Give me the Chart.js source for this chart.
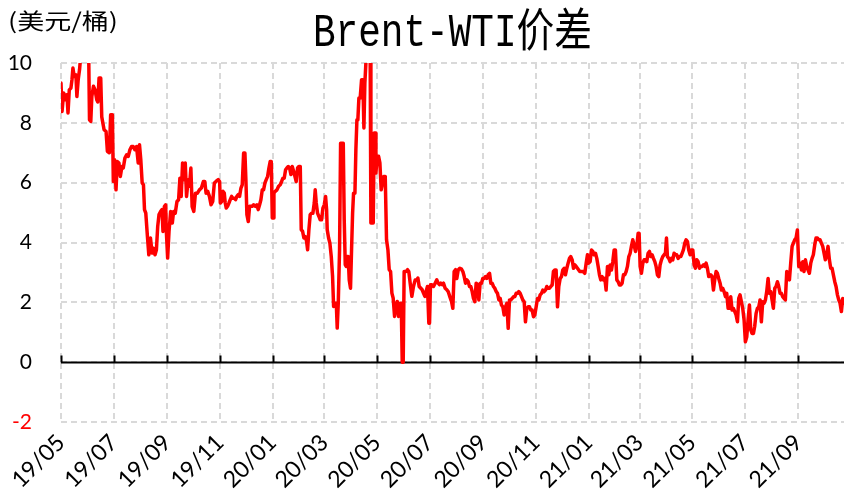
<!DOCTYPE html>
<html><head><meta charset="utf-8">
<script src="https://cdn.jsdelivr.net/npm/chart.js@4/dist/chart.umd.min.js"></script>
<style>html,body{margin:0;padding:0;background:#fff;overflow:hidden}</style>
</head><body>
<canvas id="c" width="844" height="495"></canvas>
<script>
const TITLE = 'Brent-WTI价差';
const UNIT = '(美元/桶)';
const START = Date.UTC(2019, 4, 1);           // day 0 = 2019-05-01
const tickLabels = ['19/05','19/07','19/09','19/11','20/01','20/03','20/05','20/07','20/09','20/11','21/01','21/03','21/05','21/07','21/09'];
const yTicks = [-2, 0, 2, 4, 6, 8, 10];

// days since 2019-05-01
const dayOffsets = [
 0,1.2,3.1,5.0,6.9,8.1,9.6,11.5,12.7,13.8,15.3,17.3,18.4,19.9,21.5,23.0,26.0,29.2,32.2,33.0,34.5,35.7,37.6,39.5,41.4,42.6,44.1,46.0,47.2,49.9,52.2,53.7,56.0,57.5,59.5,60.6,62.1,63.7,65.2,67.1,68.7,70.6,72.1,74.0,76.0,77.9,79.8,81.7,83.6,85.5,87.5,89.4,90.9,92.4,94.0,95.5,96.7,98.2,100.1,101.7,103.6,105.5,107.0,108.9,110.5,112.0,113.5,115.5,117.0,118.1,119.7,121.2,122.0,123.5,125.1,127.0,128.9,130.4,132.3,134.3,136.2,137.7,139.2,140.8,142.3,143.9,145.4,147.3,148.8,150.4,151.9,153.8,155.7,158.0,160.3,162.6,164.9,166.5,168.0,169.9,171.9,173.8,175.7,177.6,179.5,
 182.1,183.7,184.5,186.0,187.5,189.1,190.2,191.4,192.9,194.5,196.0,197.6,199.1,200.7,202.2,203.7,205.3,206.8,208.4,209.9,211.5,213.0,214.2,215.3,216.9,218.4,220.0,221.5,223.1,225.0,226.9,228.4,230.0,231.5,233.1,234.6,236.2,237.7,239.3,240.8,242.3,243.5,244.7,245.8,246.6,248.1,250.1,252.0,253.9,255.5,257.0,258.5,260.1,261.6,263.2,264.7,266.3,267.8,269.4,270.9,272.4,274.0,275.5,277.1,278.2,279.8,281.3,282.9,284.4,285.6,287.1,288.6,290.2,291.7,293.3,294.4,295.6,297.1,298.7,300.2,301.8,303.3,304.9,306.4,307.6,308.3,309.9,311.4,313.0,314.5,315.7,317.2,318.8,319.9,321.1,322.6,323.8,325.3,326.9,328.0,329.2,330.3,331.5,332.6,333.8,335.3,336.5,337.7,338.8,340.4,341.5,342.7,343.8,345.0,346.5,348.1,349.6,350.8,351.9,353.1,354.6,356.6,358.1,358.9,360.4,361.6,362.7,363.9,364.7,366.2,367.8,369.3,370.8,372.4,373.9,375.5,377.0,378.6,380.1,381.7,383.2,384.7,386.3,387.8,389.4,390.9,392.5,394.0,395.2,396.3,
 397.4,399.7,401.3,402.8,404.4,406.3,408.2,410.2,412.1,413.3,414.8,416.7,418.3,419.8,421.4,422.9,424.4,426.0,426.8,427.9,429.5,431.4,433.3,435.2,436.8,438.3,439.9,441.4,443.0,444.9,446.8,
 448.4,450.3,452.3,453.8,455.3,456.9,458.4,460.0,461.9,463.8,465.4,466.9,468.5,470.0,471.6,473.1,474.6,476.2,477.7,479.3,480.8,482.4,483.9,485.4,487.0,488.5,490.1,491.6,493.2,494.7,496.3,497.8,499.3,500.9,502.4,504.0,505.5,507.1,508.6,510.1,511.7,513.2,514.8,516.3,517.9,519.4,521.0,522.5,524.0,525.6,527.1,528.7,530.2,531.8,533.3,534.8,536.4,537.9,539.5,541.0,542.6,544.1,545.6,547.2,548.7,550.3,551.8,553.4,554.9,556.5,558.0,559.5,561.1,562.6,564.2,565.7,567.3,568.8,570.3,571.9,573.4,575.0,576.5,578.1,579.6,581.1,582.7,584.2,585.8,587.3,588.9,590.4,592.0,593.5,595.1,596.6,598.1,
 600.8,602.8,604.7,606.6,608.2,609.7,611.2,612.8,614.3,615.9,617.4,619.0,620.5,622.1,623.6,625.1,626.7,628.2,629.8,631.3,632.9,634.4,635.9,637.5,639.0,640.6,642.1,643.7,645.2,646.8,648.3,649.8,651.4,652.9,654.5,656.0,657.6,659.1,660.6,662.2,663.7,665.3,666.8,668.4,669.5,670.7,672.2,673.8,675.3,676.9,678.4,679.9,681.5,683.0,684.6,686.1,687.7,689.2,690.7,692.3,693.8,695.4,696.9,698.5,700.0,701.2,702.3,703.9,705.4,707.0,708.5,710.0,711.6,713.1,714.7,716.2,717.8,719.3,720.8,722.4,723.9,725.5,727.0,728.6,730.1,731.7,733.2,734.7,736.3,737.8,739.4,740.9,742.5,744.0,745.6,747.1,748.6,750.2,
 752.5,754.0,755.6,757.1,758.7,760.2,761.7,763.3,764.8,766.4,767.9,769.5,771.0,772.6,774.1,775.6,777.2,778.7,780.3,781.8,783.4,784.9,786.4,788.0,789.5,791.1,792.6,794.2,795.7,797.3,798.8,800.3,801.9,803.4,805.0,806.5,808.1,809.6,811.1,812.7,814.2,815.8,817.3,818.9,820.4,822.0,823.5,825.0,826.6,828.1,829.7,831.2,832.8,834.3,835.8,837.4,838.9,840.5,842.0,843.6,845.1,846.7,848.2,849.7,851.3,852.8,854.4,855.9,857.5,859.0,860.5,862.1,863.6,865.2,866.7,868.3,869.8,871.3,872.9,874.4,876.0,877.5,879.1,880.6,882.2,883.7,885.2,886.8,888.3,889.9,891.4,893.0,894.5,896.1,897.6,899.2,900.7,902.2,903.8,905.3,906.8
];

// Brent-WTI spread, USD/bbl
const spread = [
 9.33,8.38,9.0,8.77,8.94,8.33,9.1,9.16,9.44,9.83,9.55,9.6,8.88,9.44,9.78,10.3,10.7,10.4,10.0,8.1,8.05,8.88,9.22,9.1,8.77,8.7,9.5,9.5,8.2,7.77,7.71,7.05,7.0,8.27,8.27,6.04,6.77,5.76,6.71,6.66,6.21,6.54,6.49,6.82,6.93,6.88,7.1,7.21,7.21,7.1,7.21,6.66,7.27,6.77,5.99,5.93,5.1,4.98,4.2,3.59,4.15,3.65,3.81,3.59,3.76,4.54,4.93,5.04,5.1,4.37,5.2,5.26,4.37,3.48,4.37,5.04,4.65,5.04,4.98,5.37,5.43,6.15,5.54,6.66,6.1,6.66,5.54,6.1,5.88,6.49,5.2,5.04,5.65,5.65,5.76,5.82,6.04,6.04,5.65,5.71,5.54,5.26,5.37,5.99,6.04,
 6.1,6.04,5.32,5.37,5.71,5.65,5.32,5.15,5.21,5.32,5.43,5.54,5.48,5.48,5.43,5.54,5.6,5.54,5.82,5.93,6.99,6.99,6.04,4.93,4.70,5.21,5.21,5.21,5.26,5.21,5.26,5.10,5.26,5.43,5.76,5.76,5.99,6.1,6.21,6.49,6.71,6.71,4.82,4.82,5.65,5.71,5.76,5.88,5.93,6.04,6.15,6.15,6.43,6.49,6.54,6.49,6.27,6.54,6.38,6.21,6.04,6.49,6.54,6.54,4.43,4.37,4.15,4.20,4.04,3.76,4.43,4.93,4.98,4.98,5.32,5.76,5.32,4.98,4.87,4.76,4.76,5.15,5.26,5.54,5.10,4.43,4.15,3.98,3.53,2.87,1.86,1.97,1.97,1.14,1.97,3.76,7.32,7.32,7.32,4.76,3.26,3.20,3.53,3.53,2.75,2.47,3.76,4.98,5.65,5.65,7.10,8.10,8.10,8.83,8.83,9.44,9.44,7.83,9.33,10.0,10.6,10.6,10.0,4.65,4.65,4.65,7.66,7.66,6.32,6.88,6.88,6.66,5.76,5.99,6.21,6.21,4.09,3.76,3.09,3.03,2.31,2.14,1.53,1.86,2.03,1.53,1.97,1.97,0.0,0.0,
 3.03,3.03,3.09,3.03,2.64,2.20,2.53,2.75,2.75,2.81,2.53,2.47,2.42,2.31,2.20,2.37,2.53,1.30,1.30,2.59,2.59,2.53,2.64,2.75,2.64,2.59,2.64,2.59,2.64,2.47,2.42,
 2.36,2.19,2.02,1.80,3.03,3.09,2.80,3.08,3.14,3.11,3.03,2.87,2.64,2.75,2.69,2.53,2.53,2.36,2.13,2.02,2.64,2.58,2.08,2.64,2.64,2.80,2.80,2.86,2.80,2.92,2.97,2.64,2.64,2.53,2.47,2.36,2.30,2.08,2.13,1.91,1.85,1.58,1.85,1.97,1.13,2.08,2.08,2.13,2.19,2.19,2.30,2.30,2.36,2.30,2.19,2.08,2.02,1.35,1.80,1.85,1.85,1.74,1.74,1.52,1.58,1.85,2.13,2.08,2.25,2.30,2.41,2.36,2.41,2.53,2.47,2.47,2.53,2.58,3.03,3.08,3.08,1.85,2.53,2.80,2.86,3.08,3.14,2.92,3.14,3.31,3.47,3.53,3.42,3.14,3.25,3.20,3.14,
 3.03,3.03,3.03,2.97,3.31,3.59,3.31,3.36,3.75,3.70,3.59,3.64,3.47,3.20,2.92,2.75,2.86,2.75,2.80,2.41,3.20,2.92,3.25,3.08,3.36,3.75,3.75,2.75,2.69,2.58,2.58,2.64,2.92,2.92,3.03,3.20,3.53,3.64,3.87,4.09,3.92,3.70,3.87,4.31,4.31,3.20,2.97,3.31,3.42,3.42,3.36,3.64,3.70,3.53,3.59,3.47,3.36,3.20,2.92,2.86,3.25,3.42,3.53,3.59,3.64,4.15,3.53,3.47,3.36,3.47,3.42,3.64,3.59,3.59,3.47,3.53,3.53,3.64,3.75,3.98,4.09,4.03,3.75,3.59,3.75,3.75,3.25,3.14,3.42,3.36,3.14,3.20,3.20,3.25,3.20,3.31,3.14,2.86,
 2.92,2.86,2.41,2.75,3.03,2.97,2.80,2.64,2.41,2.47,2.36,2.19,2.30,1.80,1.80,2.19,1.74,1.80,1.69,1.58,1.35,2.13,2.25,2.02,1.80,1.41,0.68,0.85,1.41,1.91,1.08,0.96,0.96,1.20,1.63,1.80,1.85,2.08,1.35,2.02,1.97,2.08,2.36,2.80,2.30,2.36,2.08,1.80,2.47,2.53,2.69,2.53,2.30,2.30,2.19,2.13,2.08,3.03,2.97,2.75,3.31,3.87,3.98,4.09,4.15,4.42,3.20,3.31,3.08,3.36,3.03,3.42,3.20,3.08,2.97,3.31,3.47,3.59,3.92,4.15,4.15,4.09,4.09,3.98,3.87,3.64,3.42,3.59,3.87,3.42,3.14,3.14,2.92,2.69,2.53,2.25,2.08,1.97,1.69,2.13,1.97
];

const tickDays = tickLabels.map(l => (Date.UTC(2000 + +l.slice(0, 2), +l.slice(3) - 1, 1) - START) / 86400000);
const points = dayOffsets.map((d, i) => ({ x: d, y: spread[i] }));

const zeroAxis = {
  id: 'zeroAxis',
  beforeDatasetsDraw(chart) {
    const { ctx, chartArea: a, scales: { x, y } } = chart;
    const y0 = Math.round(y.getPixelForValue(0)) + 0.5;
    ctx.save();
    ctx.strokeStyle = '#000';
    ctx.lineWidth = 2;
    ctx.setLineDash([]);
    ctx.beginPath();
    ctx.moveTo(a.left, y0); ctx.lineTo(a.right, y0);
    x.ticks.forEach(t => {
      const px = Math.round(x.getPixelForValue(t.value)) + 0.5;
      ctx.moveTo(px, y0); ctx.lineTo(px, y0 - 7);
    });
    ctx.stroke();
    ctx.restore();
  }
};

const texts = {
  id: 'texts',
  afterDraw(chart) {
    const { ctx, chartArea: a } = chart;
    ctx.save();
    ctx.fillStyle = '#000';
    ctx.font = '46px "Liberation Mono", "Noto Sans CJK SC"';
    const w = ctx.measureText(TITLE).width;
    ctx.translate((a.left + a.right) / 2, 46);
    ctx.scale(279 / w, 1);
    ctx.textAlign = 'center';
    ctx.textBaseline = 'alphabetic';
    ctx.fillText(TITLE, 0, 0);
    ctx.restore();

    ctx.save();
    ctx.fillStyle = '#000';
    ctx.font = '22px "Noto Sans CJK SC"';
    const w2 = ctx.measureText(UNIT).width;
    ctx.translate(8, 29);
    ctx.scale(110 / w2, 1);
    ctx.textAlign = 'left';
    ctx.textBaseline = 'alphabetic';
    ctx.fillText(UNIT, 0, 0);
    ctx.restore();
  }
};

new Chart(document.getElementById('c'), {
  type: 'line',
  data: {
    datasets: [{
      data: points,
      borderColor: '#FF0000',
      borderWidth: 3.5,
      pointRadius: 0,
      tension: 0,
      clip: 0,
      borderJoinStyle: 'round',
      borderCapStyle: 'round'
    }]
  },
  options: {
    responsive: false,
    animation: false,
    devicePixelRatio: 1,
    layout: { padding: { top: 63, left: 0, right: 0, bottom: 0 } },
    plugins: { legend: { display: false }, tooltip: { enabled: false }, title: { display: false } },
    scales: {
      x: {
        type: 'linear',
        min: 0,
        max: dayOffsets[dayOffsets.length - 1],
        afterBuildTicks: s => { s.ticks = tickDays.map(v => ({ value: v })); },
        afterFit: s => { s.height = 73; },
        ticks: {
          autoSkip: false,
          maxRotation: 45,
          minRotation: 45,
          padding: 7,
          color: '#000',
          font: { family: 'Lato', size: 23 },
          callback: (v, i) => tickLabels[i]
        },
        grid: { color: '#d9d9d9', lineWidth: 2, drawTicks: false },
        border: { display: false, dash: [6, 4] }
      },
      y: {
        min: yTicks[0],
        max: yTicks[yTicks.length - 1],
        afterBuildTicks: s => { s.ticks = yTicks.map(v => ({ value: v })); },
        afterFit: s => { s.width = 61; },
        ticks: {
          padding: 29,
          color: c => (c.tick.value < 0 ? '#FF0000' : '#000'),
          font: { family: 'Lato', size: 21 },
          callback: v => String(v)
        },
        grid: { color: '#d9d9d9', lineWidth: 2, drawTicks: false },
        border: { display: false, dash: [6, 4] }
      }
    }
  },
  plugins: [zeroAxis, texts]
});
</script>
</body></html>
